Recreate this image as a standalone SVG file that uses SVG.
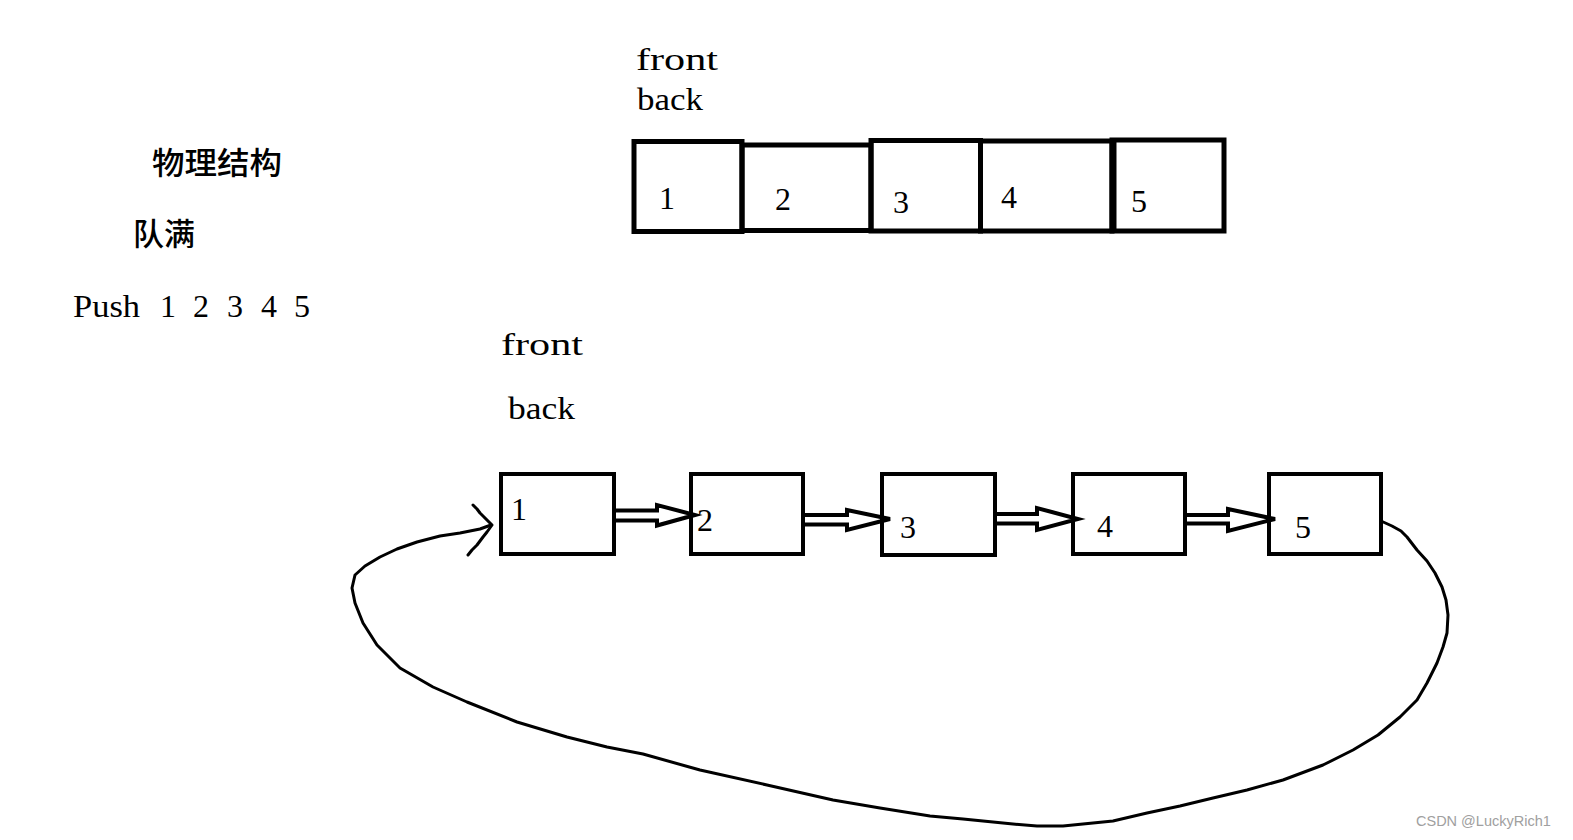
<svg xmlns="http://www.w3.org/2000/svg" width="1573" height="840" viewBox="0 0 1573 840">
<style>
.t{font-family:"Liberation Serif","DejaVu Serif",serif;font-size:32px;fill:#000}
.zh{font-family:"Noto Sans CJK SC","Noto Sans CJK JP",sans-serif;font-size:31px;fill:#000;font-weight:500}
.cell{fill:none;stroke:#000;stroke-width:5}
.node{fill:none;stroke:#000;stroke-width:4}
.arr{fill:none;stroke:#000;stroke-width:4;stroke-linejoin:miter}
.loop{fill:none;stroke:#000;stroke-width:3;stroke-linejoin:round;stroke-linecap:round}
.wm{font-family:"Liberation Sans",Arial,sans-serif;font-size:14.5px;fill:#a0a0a0}
</style>
<rect width="1573" height="840" fill="#fff"/>

<g id="labels">
<text class="zh" x="152" y="174" textLength="130" lengthAdjust="spacingAndGlyphs">物理结构</text>
<text class="zh" x="133" y="245" textLength="62" lengthAdjust="spacingAndGlyphs">队满</text>
<text class="t" y="317" font-size="31"><tspan x="73" textLength="67" lengthAdjust="spacingAndGlyphs">Push</tspan><tspan x="160">1</tspan><tspan x="193">2</tspan><tspan x="227">3</tspan><tspan x="261">4</tspan><tspan x="294">5</tspan></text>
<text class="t" x="636" y="70" textLength="82" lengthAdjust="spacingAndGlyphs">front</text>
<text class="t" x="637" y="110" textLength="66" lengthAdjust="spacingAndGlyphs">back</text>
<text class="t" x="501" y="355" textLength="82" lengthAdjust="spacingAndGlyphs">front</text>
<text class="t" x="508" y="419" textLength="67" lengthAdjust="spacingAndGlyphs">back</text>
</g>

<g id="array">
<rect class="cell" x="634" y="141.5" width="108" height="90"/>
<rect class="cell" x="742" y="145" width="129" height="85.5"/>
<rect class="cell" x="871" y="140.5" width="109.5" height="90.5"/>
<rect class="cell" x="980.5" y="141" width="131.5" height="90"/>
<rect class="cell" x="1112" y="140" width="112" height="91"/>
<line x1="1114" y1="138" x2="1114" y2="233" stroke="#000" stroke-width="5"/>
<text class="t" x="659" y="209">1</text>
<text class="t" x="775" y="210">2</text>
<text class="t" x="893" y="213">3</text>
<text class="t" x="1001" y="208">4</text>
<text class="t" x="1131" y="212">5</text>
</g>

<g id="node1"><rect class="node" x="501" y="474" width="113" height="80"/><text class="t" x="511" y="520">1</text></g>
<g id="node2"><rect class="node" x="691" y="474" width="112" height="80"/><text class="t" x="697" y="531">2</text></g>
<g id="node3"><rect class="node" x="882" y="474" width="113" height="81"/><text class="t" x="900" y="538">3</text></g>
<g id="node4"><rect class="node" x="1073" y="474" width="112" height="80"/><text class="t" x="1097" y="537">4</text></g>
<g id="node5"><rect class="node" x="1269" y="474" width="112" height="80"/><text class="t" x="1295" y="538">5</text></g>

<g id="connectors">
<polyline class="arr" points="616,510.5 657,510.5 657,505 695,515 657,525.5 657,520.5 616,520.5"/>
<polyline class="arr" points="805,515 847,515 847,510 890,519 847,530 847,524.5 805,524.5"/>
<polyline class="arr" points="997,514 1037,514 1037,508 1078,519 1037,530 1037,523.5 997,523.5"/>
<polyline class="arr" points="1187,515 1228,515 1228,509 1275,519 1228,531 1228,523.5 1187,523.5"/>
<polyline class="loop" points="1381,521 1392,526 1401,531 1407,537 1417,550 1427,561 1435,573 1442,587 1446,600 1448,615 1447,633 1443,647 1437,663 1427,683 1417,700 1400,717 1378,735 1353,750 1323,765 1283,780 1247,790 1213,798 1180,806 1147,813 1113,821 1063,826 1037,826 1013,824 963,819 930,816 880,808 833,800 767,785 700,770 643,754 607,747 567,737 517,722 467,702 433,687 400,668 377,645 363,623 355,603 352,588 355,575 365,566 380,557 397,549 417,542 440,536 460,533 480,529 491,525"/>
<polyline class="loop" points="473,505 477,509 480,513 484,517 487,520 492,525 487,532 483,537 477,545 472,550 468,555"/>
</g>

<text class="wm" x="1416" y="826">CSDN @LuckyRich1</text>
</svg>
